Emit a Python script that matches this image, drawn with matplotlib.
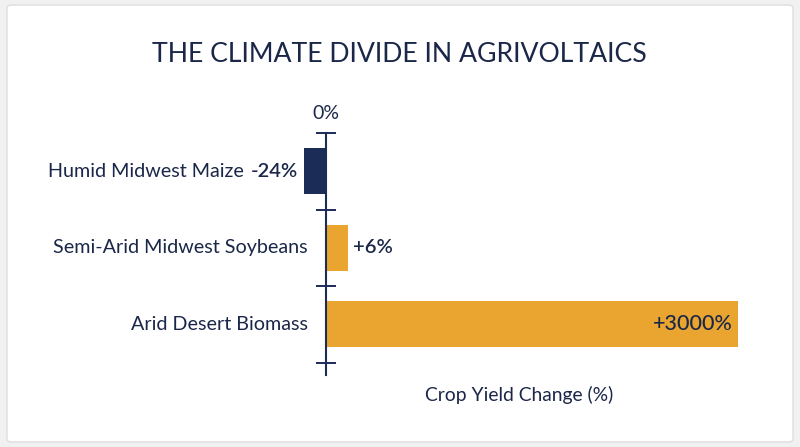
import matplotlib
matplotlib.use("Agg")
import matplotlib.pyplot as plt
from matplotlib.patches import FancyBboxPatch
import numpy as np

categories = ["Humid Midwest Maize", "Semi-Arid Midwest Soybeans", "Arid Desert Biomass"]
values = [-24, 6, 3000]
value_labels = ["-24%", "+6%", "+3000%"]

NAVY = "#1b2c57"
TEXT = "#1a2748"
ORANGE = "#e9a52f"

plt.rcParams["font.family"] = ["Lato", "DejaVu Sans"]

W, H = 800, 447
fig = plt.figure(figsize=(W / 100, H / 100), dpi=100)
fig.patch.set_facecolor("#f1f1f1")

# white card with soft edge
card = FancyBboxPatch((7 / W, 5 / H), 786 / W, 437 / H,
                      boxstyle="round,pad=0,rounding_size=0.006",
                      transform=fig.transFigure, facecolor="white",
                      edgecolor="#e2e2e2", linewidth=1.2, zorder=-5)
fig.patches.append(card)


# compressed scale: negative side linear, positive side log-like
def fwd(x):
    x = np.asarray(x, dtype=float)
    return np.where(x < 0, x * 0.01117, np.log1p(np.clip(x, 0, None) / 20.0))


def inv(y):
    y = np.asarray(y, dtype=float)
    return np.where(y < 0, y / 0.01117, np.expm1(np.clip(y, 0, None)) * 20.0)


xmin, xmax = -25, 3500
k = 412 / float(fwd(3000))
left_px = 326 + float(fwd(xmin)) * k
right_px = 326 + float(fwd(xmax)) * k
top_px, bot_px = 133, 375
ax = fig.add_axes([left_px / W, 1 - bot_px / H, (right_px - left_px) / W, (bot_px - top_px) / H])
ax.set_xscale("function", functions=(fwd, inv))
ax.set_xlim(xmin, xmax)
ax.set_ylim(2.66, -0.5)
ax.patch.set_alpha(0)

y = np.arange(len(categories))
colors = [NAVY if v < 0 else ORANGE for v in values]
ax.barh(y, values, height=0.6, color=colors, zorder=2)

for s in ["top", "right", "bottom"]:
    ax.spines[s].set_visible(False)
ax.spines["left"].set_position(("data", 0))
ax.spines["left"].set_color(NAVY)
ax.spines["left"].set_linewidth(1.5)
ax.spines["left"].set_zorder(3)
ax.set_yticks(np.arange(-0.5, len(categories) + 0.5, 1.0))
ax.set_yticklabels([])
ax.tick_params(axis="y", direction="inout", length=14.5, width=1.4, color=NAVY)

ax.xaxis.set_ticks_position("top")
ax.set_xticks([0])
ax.set_xticklabels(["0%"])
ax.tick_params(axis="x", length=0, pad=8, labelsize=14, labelcolor=TEXT)

fig.canvas.draw()
renderer = fig.canvas.get_renderer()
for yi, v, lab, cat in zip(y, values, value_labels, categories):
    if v < 0:
        t = ax.annotate(lab, (v, yi), xytext=(-4, 0), textcoords="offset points",
                        ha="right", va="center", fontsize=14.5, fontweight="semibold",
                        color=TEXT, annotation_clip=False)
        bb = t.get_window_extent(renderer)
        xa = ax.transData.inverted().transform((bb.x0, 0))[0]
        ax.annotate(cat, (xa, yi), xytext=(-5, 0), textcoords="offset points",
                    ha="right", va="center", fontsize=14.2, color=TEXT, annotation_clip=False)
    else:
        if v > 1000:
            ax.annotate(lab, (v, yi), xytext=(-4, 0), textcoords="offset points",
                        ha="right", va="center", fontsize=15.5, fontweight="medium",
                        color=TEXT)
        else:
            ax.annotate(lab, (v, yi), xytext=(4, 0), textcoords="offset points",
                        ha="left", va="center", fontsize=14.5, fontweight="semibold",
                        color=TEXT)
        ax.annotate(cat, (0, yi), xytext=(-13, 0), textcoords="offset points",
                    ha="right", va="center", fontsize=14.2, color=TEXT, annotation_clip=False)

fig.text(399 / W, 1 - 54 / H, "THE CLIMATE DIVIDE IN AGRIVOLTAICS", ha="center", va="center",
         fontsize=19.2, color=TEXT)
fig.text(519 / W, 1 - 395 / H, "Crop Yield Change (%)", ha="center", va="center",
         fontsize=13.9, color=TEXT)

fig.savefig("out.png", dpi=100, facecolor=fig.get_facecolor())
